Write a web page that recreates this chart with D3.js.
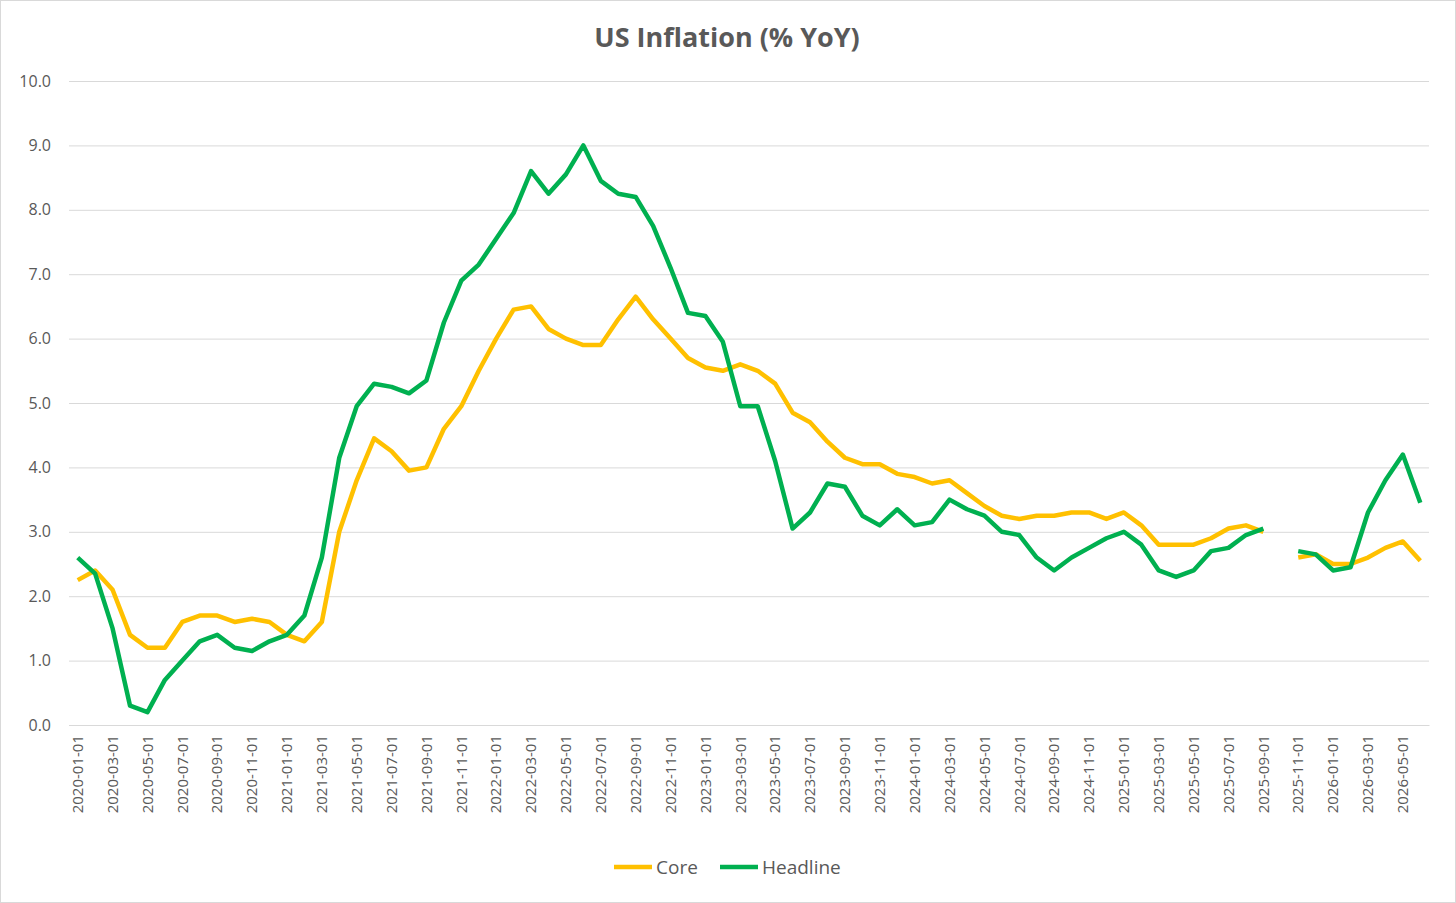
<!DOCTYPE html>
<html>
<head>
<meta charset="utf-8">
<script src="https://cdn.jsdelivr.net/npm/d3@7"></script>
<style>
  body { margin: 0; background: #fff; }
  svg { font-family: "Open Sans", "Liberation Sans", sans-serif; }
</style>
</head>
<body>
<div id="chart"></div>
<script>
// data, monthly from 2020-01 to 2026-06 (2025-10 missing)
const months = d3.range(78).map(i => {
  const y = 2020 + Math.floor(i / 12);
  const m = (i % 12) + 1;
  return y + '-' + (m < 10 ? '0' + m : m) + '-01';
});
const core = [2.25, 2.4, 2.1, 1.4, 1.2, 1.2, 1.6, 1.7, 1.7, 1.6, 1.65, 1.6,
  1.4, 1.3, 1.6, 3.0, 3.8, 4.45, 4.25, 3.95, 4.0, 4.6, 4.95, 5.5,
  6.0, 6.45, 6.5, 6.15, 6.0, 5.9, 5.9, 6.3, 6.65, 6.3, 6.0, 5.7,
  5.55, 5.5, 5.6, 5.5, 5.3, 4.85, 4.7, 4.4, 4.15, 4.05, 4.05, 3.9,
  3.85, 3.75, 3.8, 3.6, 3.4, 3.25, 3.2, 3.25, 3.25, 3.3, 3.3, 3.2,
  3.3, 3.1, 2.8, 2.8, 2.8, 2.9, 3.05, 3.1, 3.0, null, 2.6, 2.65,
  2.5, 2.5, 2.6, 2.75, 2.85, 2.55];
const headline = [2.6, 2.35, 1.5, 0.3, 0.2, 0.7, 1.0, 1.3, 1.4, 1.2, 1.15, 1.3,
  1.4, 1.7, 2.6, 4.15, 4.95, 5.3, 5.25, 5.15, 5.35, 6.25, 6.9, 7.15,
  7.55, 7.95, 8.6, 8.25, 8.55, 9.0, 8.45, 8.25, 8.2, 7.75, 7.1, 6.4,
  6.35, 5.95, 4.95, 4.95, 4.1, 3.05, 3.3, 3.75, 3.7, 3.25, 3.1, 3.35,
  3.1, 3.15, 3.5, 3.35, 3.25, 3.0, 2.95, 2.6, 2.4, 2.6, 2.75, 2.9,
  3.0, 2.8, 2.4, 2.3, 2.4, 2.7, 2.75, 2.95, 3.05, null, 2.7, 2.65,
  2.4, 2.45, 3.3, 3.8, 4.2, 3.45];
const yTicks = d3.range(0, 10.5, 1);

const w = 1456, h = 903;
const plotLeft = 69, plotRight = 1429, plotTop = 81, plotBottom = 725;

const svg = d3.select('#chart').append('svg').attr('width', w).attr('height', h);
svg.append('rect').attr('x', 0.5).attr('y', 0.5).attr('width', w - 1).attr('height', h - 1)
  .attr('fill', '#fff').attr('stroke', '#d9d9d9');

svg.append('text').attr('x', 727).attr('y', 47).attr('text-anchor', 'middle')
  .attr('font-size', 27).attr('font-weight', 'bold').attr('fill', '#595959')
  .text('US Inflation (% YoY)');

const xScale = d3.scaleBand().domain(months).range([plotLeft, plotRight]);
const yScale = d3.scaleLinear().domain([0, 10]).range([plotBottom, plotTop]);

// grid and y labels
const yAxis = d3.axisLeft(yScale).tickValues(yTicks).tickSize(-(plotRight - plotLeft))
  .tickFormat(d3.format('.1f'));
svg.append('g').attr('transform', 'translate(' + plotLeft + ',0)').call(yAxis)
  .call(g => g.select('.domain').remove())
  .call(g => g.selectAll('line').attr('stroke', '#d9d9d9'))
  .call(g => g.selectAll('text').attr('x', -18).attr('font-size', 16).attr('fill', '#595959')
    .attr('font-family', '"Open Sans", sans-serif'));

// x axis
const xAxis = d3.axisBottom(xScale).tickValues(months.filter((d, i) => i % 2 === 0)).tickSize(0);
svg.append('g').attr('transform', 'translate(0,' + plotBottom + ')').call(xAxis)
  .call(g => g.select('.domain').attr('stroke', '#d9d9d9'))
  .call(g => g.selectAll('text')
    .attr('transform', 'rotate(-90)').attr('text-anchor', 'end')
    .attr('x', -10).attr('y', 0).attr('dy', '0.35em')
    .attr('font-size', 15).attr('fill', '#595959')
    .attr('font-family', '"Open Sans", sans-serif'));

const line = d3.line()
  .defined(d => d != null)
  .x((d, i) => xScale(months[i]) + xScale.bandwidth() / 2)
  .y(d => yScale(d));

svg.append('path').datum(core).attr('d', line).attr('fill', 'none')
  .attr('stroke', '#FFC000').attr('stroke-width', 4.5).attr('stroke-linejoin', 'round');
svg.append('path').datum(headline).attr('d', line).attr('fill', 'none')
  .attr('stroke', '#00B050').attr('stroke-width', 4.5).attr('stroke-linejoin', 'round');

// legend
const legend = [['Core', '#FFC000', 614], ['Headline', '#00B050', 720]];
legend.forEach(([name, color, x]) => {
  svg.append('line').attr('x1', x).attr('x2', x + 38).attr('y1', 867).attr('y2', 867)
    .attr('stroke', color).attr('stroke-width', 4.5);
  svg.append('text').attr('x', x + 42).attr('y', 874).attr('font-size', 19)
    .attr('fill', '#595959').text(name);
});
</script>
</body>
</html>
